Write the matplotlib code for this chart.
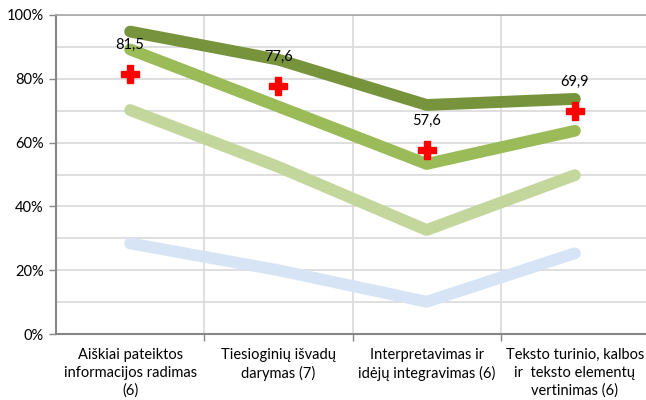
import numpy as np
import matplotlib
matplotlib.use('Agg')
import matplotlib.pyplot as plt
from matplotlib.ticker import FixedLocator, PercentFormatter

categories = ['Aiškiai pateiktos\ninformacijos radimas\n(6)',
              'Tiesioginių išvadų\ndarymas (7)',
              'Interpretavimas ir\nidėjų integravimas (6)',
              'Teksto turinio, kalbos\nir  teksto elementų\nvertinimas (6)']

dark_green = [94.8, 86.0, 71.8, 73.7]
mid_green = [89.2, 71.3, 53.3, 63.7]
light_green = [70.2, 52.4, 32.6, 49.8]
light_blue = [28.4, 20.0, 10.1, 25.3]
results = [81.5, 77.6, 57.6, 69.9]
result_labels = ['81,5', '77,6', '57,6', '69,9']

plt.rcParams['font.family'] = ['Lato', 'DejaVu Sans']

x = np.arange(1, len(categories) + 1)

fig = plt.figure(figsize=(6.46, 4.0), dpi=100)
ax = fig.add_axes([56 / 646, 1 - 334 / 400, 593 / 646, 319 / 400])

lw = 8.5
ax.plot(x, light_blue, color='#D6E4F5', lw=lw, solid_capstyle='round', zorder=3)
ax.plot(x, light_green, color='#C3D69B', lw=lw, solid_capstyle='round', zorder=3)
ax.plot(x, mid_green, color='#9BBB59', lw=lw, solid_capstyle='round', zorder=3)
ax.plot(x, dark_green, color='#77933C', lw=lw, solid_capstyle='round', zorder=3)
ax.plot(x, results, ls='none', marker='P', ms=13.5, color='#FF0000',
        markeredgecolor='#FF0000', zorder=4)
for xi, v, lab in zip(x, results, result_labels):
    ax.annotate(lab, (xi, v), xytext=(0, 21), textcoords='offset points',
                ha='center', va='center', fontsize=10.5, color='#000000', zorder=5)

ax.set_xlim(0.5, 4.5)
ax.set_ylim(0, 100)

ax.yaxis.set_major_locator(FixedLocator([0, 20, 40, 60, 80, 100]))
ax.yaxis.set_minor_locator(FixedLocator([10, 30, 50, 70, 90]))
ax.yaxis.set_major_formatter(PercentFormatter(decimals=0))
ax.xaxis.set_major_locator(FixedLocator([1.5, 2.5, 3.5]))
ax.xaxis.set_major_formatter(plt.NullFormatter())
ax.xaxis.set_minor_locator(FixedLocator(list(x)))
ax.set_xticklabels(categories, minor=True, fontsize=10.5, linespacing=1.35)

ax.tick_params(axis='y', which='major', length=5, width=1, color='#868686',
               labelsize=10.5, pad=4)
ax.tick_params(axis='y', which='minor', length=0)
ax.tick_params(axis='x', which='major', length=5, width=1, color='#868686')
ax.tick_params(axis='x', which='minor', length=0, pad=10)

ax.grid(True, which='both', axis='y', color='#D9D9D9', lw=1.2, zorder=0)
ax.grid(True, which='major', axis='x', color='#D9D9D9', lw=1.2, zorder=0)
ax.set_axisbelow(True)

for side in ['left', 'bottom']:
    ax.spines[side].set_color('#868686')
    ax.spines[side].set_linewidth(1.5)
ax.spines['top'].set_color('#A6A6A6')
ax.spines['top'].set_linewidth(1.2)
ax.spines['right'].set_visible(False)

fig.savefig('out.png', dpi=100)
